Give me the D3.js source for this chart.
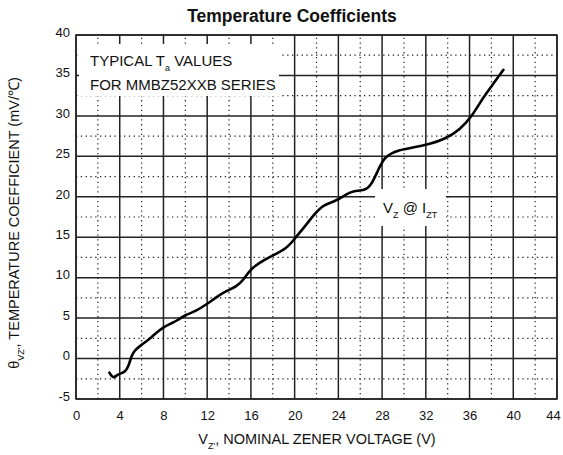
<!DOCTYPE html>
<html>
<head>
<meta charset="utf-8">
<script src="https://cdn.jsdelivr.net/npm/d3@7"></script>
<style>
  body { margin: 0; background: #fff; }
  svg text { font-family: "Liberation Sans", Arial, sans-serif; fill: #111; }
</style>
</head>
<body>
<script>
const w = 563;
const h = 455;
const margin = { top: 35, right: 6, bottom: 56, left: 76 };

// nominal zener voltage (V) and temperature coefficient (mV/C)
const voltage = [3.06, 3.4, 3.76, 4.2, 4.5, 4.8, 5.1, 5.4, 5.9, 6.8, 7.1, 8.0, 8.8, 9.25, 10.0, 10.9,
  12.0, 12.9, 13.8, 14.7, 15.3, 15.9, 16.7, 17.9, 19.3, 20.05, 20.8, 21.9, 22.6, 23.85, 24.8,
  25.4, 26.4, 27.0, 27.6, 28.2, 29.3, 31.9, 33.9, 35.1, 36.2, 37.2, 38.3, 39.1];
const coefficient = [-1.75, -2.5, -2.0, -1.8, -1.6, -1.0, 0.45, 1.06, 1.6, 2.5, 2.9, 3.9, 4.4, 4.7, 5.4, 5.8,
  6.75, 7.65, 8.4, 8.9, 9.7, 10.95, 11.8, 12.7, 13.6, 14.9, 16.1, 18.0, 19.0, 19.5, 20.4,
  20.75, 20.75, 21.4, 23.2, 24.9, 25.8, 26.3, 27.2, 28.3, 29.9, 32.2, 34.2, 35.7];

const xTicks = [0, 4, 8, 12, 16, 20, 24, 28, 32, 36, 40, 44];
const yTicks = [-5, 0, 5, 10, 15, 20, 25, 30, 35, 40];
const xMinor = [2, 6, 10, 14, 18, 22, 26, 30, 34, 38, 42];
const yMinor = [-2.5, 2.5, 7.5, 12.5, 17.5, 22.5, 27.5, 32.5, 37.5];

const svg = d3.select("body").append("svg").attr("width", w).attr("height", h);

const x = d3.scaleLinear().domain([0, 44]).range([margin.left, w - margin.right]);
const y = d3.scaleLinear().domain([-5, 40]).range([h - margin.bottom, margin.top]);

// dotted minor grid
const grid = svg.append("g");
grid.selectAll(".vminor").data(xMinor).enter().append("line")
  .attr("x1", d => x(d)).attr("x2", d => x(d))
  .attr("y1", y(-5)).attr("y2", y(40))
  .attr("stroke", "#222").attr("stroke-width", 1.2).attr("stroke-dasharray", "1.3,3.5");
grid.selectAll(".hminor").data(yMinor).enter().append("line")
  .attr("x1", x(0)).attr("x2", x(44))
  .attr("y1", d => y(d)).attr("y2", d => y(d))
  .attr("stroke", "#222").attr("stroke-width", 1.2).attr("stroke-dasharray", "1.3,3.5");

// solid major grid
grid.selectAll(".vmajor").data(xTicks).enter().append("line")
  .attr("x1", d => x(d)).attr("x2", d => x(d))
  .attr("y1", y(-5)).attr("y2", y(40))
  .attr("stroke", "#222").attr("stroke-width", 1.5);
grid.selectAll(".hmajor").data(yTicks).enter().append("line")
  .attr("x1", x(0)).attr("x2", x(44))
  .attr("y1", d => y(d)).attr("y2", d => y(d))
  .attr("stroke", "#222").attr("stroke-width", 1.5);

// white boxes behind the notes
svg.append("rect").attr("x", 79).attr("y", 44).attr("width", 200).attr("height", 52).attr("fill", "#fff");
svg.append("rect").attr("x", 375).attr("y", 189).attr("width", 71).attr("height", 37).attr("fill", "#fff");

// frame
svg.append("rect")
  .attr("x", x(0)).attr("y", y(40))
  .attr("width", x(44) - x(0)).attr("height", y(-5) - y(40))
  .attr("fill", "none").attr("stroke", "#222").attr("stroke-width", 1.5);

// axes (labels only)
const xAxis = svg.append("g")
  .attr("transform", "translate(0," + y(-5) + ")")
  .call(d3.axisBottom(x).tickValues(xTicks).tickFormat(d => String(d)).tickSize(0).tickPadding(12));
const yAxis = svg.append("g")
  .attr("transform", "translate(" + x(0) + ",0)")
  .call(d3.axisLeft(y).tickValues(yTicks).tickFormat(d => String(d)).tickSize(0).tickPadding(6));
[xAxis, yAxis].forEach(a => {
  a.select(".domain").remove();
  a.selectAll("text").style("font-size", "13px").attr("fill", "#111");
});
yAxis.selectAll("text").attr("dy", "0.1em");
// last x label sits on the page edge
xAxis.selectAll("text").filter(d => d === 44).attr("dx", -4);

// curve
const pts = voltage.map((v, i) => [v, coefficient[i]]);
svg.append("path")
  .datum(pts)
  .attr("fill", "none")
  .attr("stroke", "#000")
  .attr("stroke-width", 2.6)
  .attr("stroke-linecap", "round")
  .attr("stroke-linejoin", "round")
  .attr("d", d3.line().x(d => x(d[0])).y(d => y(d[1])).curve(d3.curveBasis));

// title
svg.append("text")
  .attr("x", 292).attr("y", 22)
  .attr("text-anchor", "middle")
  .style("font-size", "17.5px").style("font-weight", "bold")
  .text("Temperature Coefficients");

// note 1
const n1 = svg.append("text").attr("x", 90).attr("y", 66).style("font-size", "15px");
n1.append("tspan").text("TYPICAL T");
n1.append("tspan").attr("dy", 5).style("font-size", "9px").text("a");
n1.append("tspan").attr("dy", -5).text(" VALUES");
svg.append("text").attr("x", 90).attr("y", 90).style("font-size", "15px").text("FOR MMBZ52XXB SERIES");

// note 2
const n2 = svg.append("text").attr("x", 383).attr("y", 213).style("font-size", "15px");
n2.append("tspan").text("V");
n2.append("tspan").attr("dy", 5).style("font-size", "9px").text("Z");
n2.append("tspan").attr("dy", -5).text(" @ I");
n2.append("tspan").attr("dy", 5).style("font-size", "9px").text("ZT");

// x label
const xl = svg.append("text").attr("x", 317).attr("y", 444).attr("text-anchor", "middle").style("font-size", "14.5px");
xl.append("tspan").text("V");
xl.append("tspan").attr("dy", 5).style("font-size", "9px").text("Z'");
xl.append("tspan").attr("dy", -5).text(", NOMINAL ZENER VOLTAGE (V)");

// y label
const yl = svg.append("text")
  .attr("transform", "translate(19,223) rotate(-90)")
  .attr("text-anchor", "middle").style("font-size", "14.5px");
yl.append("tspan").text("θ");
yl.append("tspan").attr("dy", 5).style("font-size", "9px").text("VZ'");
yl.append("tspan").attr("dy", -5).text(", TEMPERATURE COEFFICIENT (mV/℃)");
</script>
</body>
</html>
